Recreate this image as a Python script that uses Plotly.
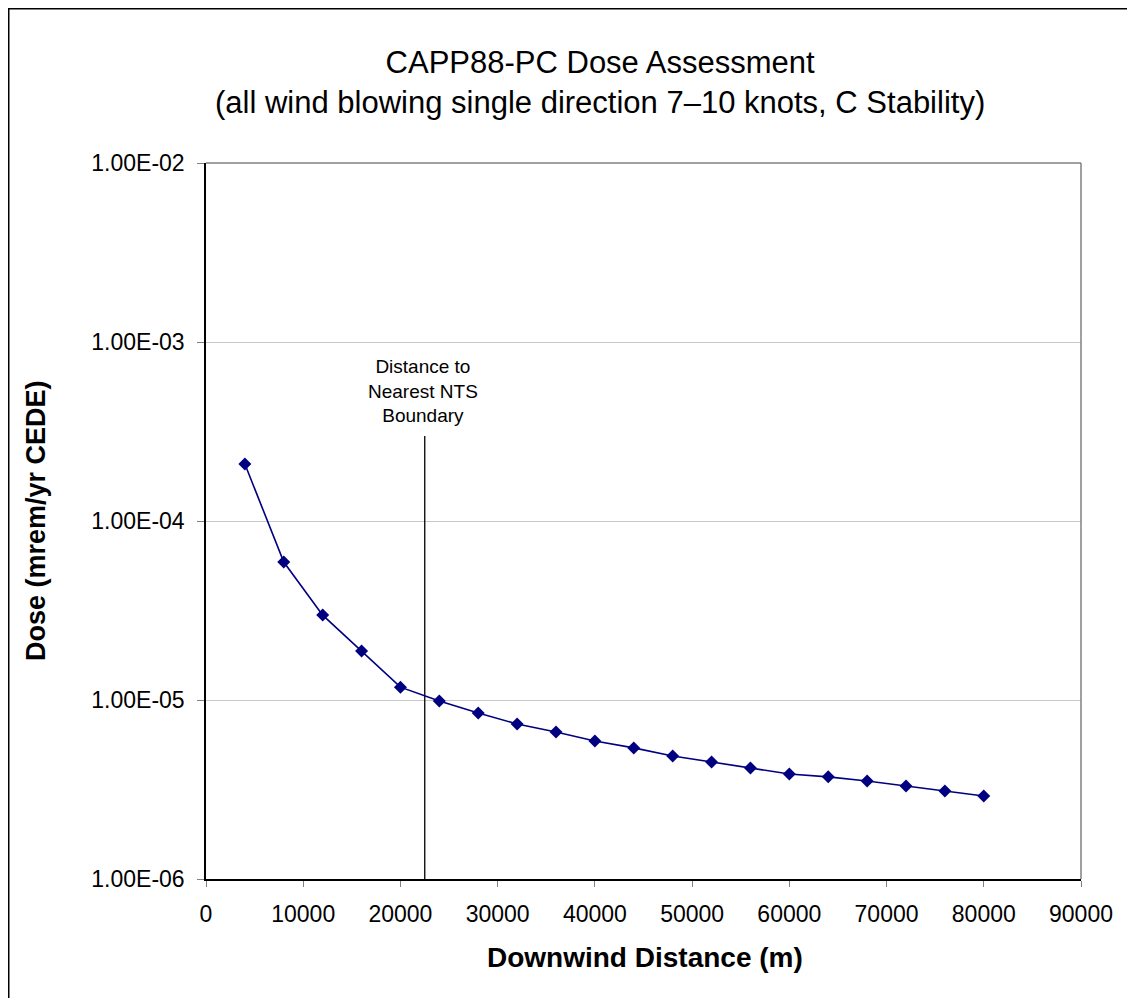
import plotly.graph_objects as go

distance_m = [4000, 8000, 12000, 16000, 20000, 24000, 28000, 32000, 36000, 40000,
              44000, 48000, 52000, 56000, 60000, 64000, 68000, 72000, 76000, 80000]
dose = [2.08e-4, 5.9e-5, 2.98e-5, 1.88e-5, 1.18e-5, 9.87e-6, 8.46e-6, 7.34e-6, 6.62e-6, 5.9e-6,
        5.4e-6, 4.87e-6, 4.5e-6, 4.17e-6, 3.86e-6, 3.72e-6, 3.53e-6, 3.31e-6, 3.1e-6, 2.91e-6]

boundary_x = [22500, 22500]
boundary_y = [1e-6, 2.98e-4]

y_tickvals = [1e-6, 1e-5, 1e-4, 1e-3, 1e-2]
y_ticktext = ["1.00E-06", "1.00E-05", "1.00E-04", "1.00E-03", "1.00E-02"]
x_tickvals = [0, 10000, 20000, 30000, 40000, 50000, 60000, 70000, 80000, 90000]

OFF = 8  # page body margin
W, H = 1135 - OFF, 998 - OFF
# plot area in reference (page) pixels
L, R, T, B = 206, 1081, 163, 879
pw, ph = R - L, B - T


def px(xp):
    return (xp - L) / pw


def py(yp):
    return (B - yp) / ph


FONT = "Liberation Sans, Arial, sans-serif"

fig = go.Figure()
fig.add_trace(go.Scatter(x=boundary_x, y=boundary_y, mode="lines",
                         line=dict(color="black", width=1.3), showlegend=False,
                         hoverinfo="skip"))
fig.add_trace(go.Scatter(x=distance_m, y=dose, mode="lines+markers",
                         line=dict(color="#000080", width=1.6),
                         marker=dict(symbol="diamond", size=10, color="#000080"),
                         showlegend=False))

fig.update_layout(
    width=W, height=H,
    margin=dict(l=L - OFF, r=W - (R - OFF), t=T - OFF, b=H - (B - OFF), pad=0),
    paper_bgcolor="white", plot_bgcolor="white",
    font=dict(family=FONT, color="black"),
    xaxis=dict(range=[0, 90000], tickvals=x_tickvals, ticktext=[str(v) for v in x_tickvals],
               showgrid=False, zeroline=False, showline=True, linecolor="black", linewidth=1.5,
               ticks="outside", ticklen=6, tickcolor="#808080", tickwidth=1,
               ticklabelstandoff=8,
               tickfont=dict(size=23, family=FONT, color="black")),
    yaxis=dict(type="log", range=[-6, -2], tickvals=y_tickvals, ticktext=y_ticktext,
               showgrid=True, gridcolor="#c8c8c8", gridwidth=1, zeroline=False,
               showline=True, linecolor="black", linewidth=1.5,
               ticks="outside", ticklen=7, tickcolor="#808080", tickwidth=1,
               ticklabelstandoff=8,
               tickfont=dict(size=23, family=FONT, color="black")),
    shapes=[
        dict(type="line", xref="paper", yref="paper", x0=0, x1=1, y0=1, y1=1,
             line=dict(color="#808080", width=1.5)),
        dict(type="line", xref="paper", yref="paper", x0=1, x1=1, y0=0, y1=1,
             line=dict(color="#808080", width=1.5)),
        dict(type="line", xref="paper", yref="paper", x0=px(OFF), x1=px(1135 + 5),
             y0=py(OFF + 0.5), y1=py(OFF + 0.5),
             line=dict(color="black", width=2)),
        dict(type="line", xref="paper", yref="paper", x0=px(OFF + 0.5), x1=px(OFF + 0.5),
             y0=py(OFF), y1=py(1000),
             line=dict(color="black", width=2)),
    ],
    annotations=[
        dict(text="CAPP88-PC Dose Assessment<br>(all wind blowing single direction 7\u201310 knots, C Stability)",
             xref="paper", yref="paper", x=px(600), y=py(83), xanchor="center", yanchor="middle",
             showarrow=False, font=dict(size=31, family=FONT), align="center"),
        dict(text="<b>Downwind Distance (m)</b>", xref="paper", yref="paper",
             x=px(645), y=py(957), xanchor="center", yanchor="middle", showarrow=False,
             font=dict(size=28, family=FONT)),
        dict(text="<b>Dose (mrem/yr CEDE)</b>", xref="paper", yref="paper",
             x=px(36), y=py(521), xanchor="center", yanchor="middle", showarrow=False,
             textangle=-90, font=dict(size=27, family=FONT)),
        dict(text="Distance to<br>Nearest NTS<br>Boundary", xref="paper", yref="paper",
             x=px(423), y=py(391), xanchor="center", yanchor="middle", showarrow=False,
             font=dict(size=19, family=FONT), align="center"),
    ],
)

fig.write_html("out.html")
